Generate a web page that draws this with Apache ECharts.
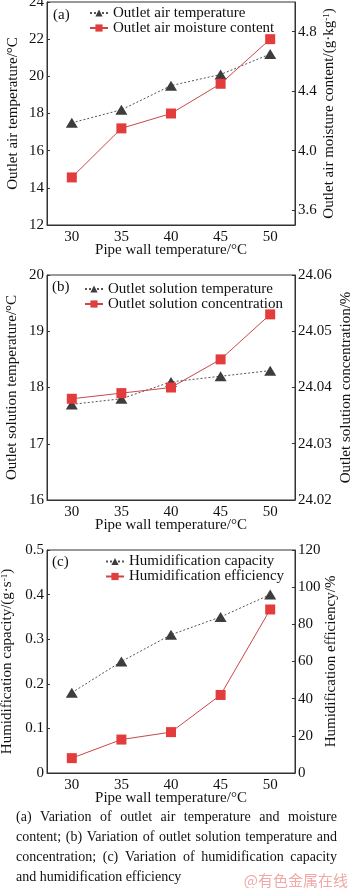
<!DOCTYPE html>
<html lang="en" style="height: 100%">
<head>
  <meta charset="utf-8">
</head>
<body style="height: 100%; margin: 0; background-color: #fff">
  <div id="container" style="width: 350px; height: 888px"></div>
  <script type="text/javascript" src="https://cdn.jsdelivr.net/npm/echarts@6.0.0/dist/echarts.min.js"></script>
  <script type="text/javascript">
    // ----- data -----
    var pipeWallTemp = ['30', '35', '40', '45', '50'];

    // (a)
    var outletAirTemp = [17.5, 18.2, 19.5, 20.1, 21.2];
    var outletAirMoisture = [3.82, 4.15, 4.25, 4.45, 4.75];
    var moistureTicks = [3.6, 4.0, 4.4, 4.8];

    // (b)
    var outletSolutionTemp = [17.7, 17.8, 18.1, 18.2, 18.3];
    var outletSolutionConc = [24.038, 24.039, 24.040, 24.045, 24.053];

    // (c)
    var humidCapacity = [0.18, 0.25, 0.31, 0.35, 0.40];
    var humidEfficiency = [8, 18, 22, 42, 88];

    var captionLines = [
      '(a) Variation of outlet air temperature and moisture',
      'content; (b) Variation of outlet solution temperature and',
      'concentration; (c) Variation of humidification capacity',
      'and humidification efficiency'
    ];

    var SERIF = '"Liberation Serif", "Times New Roman", serif';
    var AXIS_COLOR = '#333';
    var TEXT_COLOR = '#111';
    var TRI_COLOR = '#3d3d3d';
    var RED = '#e23c3c';

    var dom = document.getElementById('container');
    var myChart = echarts.init(dom, null, { renderer: 'canvas' });

    //-----helpers-------
    function makeX(gridIndex) {
      return {
        type: 'category',
        gridIndex: gridIndex,
        data: pipeWallTemp,
        boundaryGap: true,
        name: 'Pipe wall temperature/°C',
        nameLocation: 'middle',
        nameGap: 18,
        nameMoveOverlap: false,
        nameTextStyle: { fontFamily: SERIF, fontSize: 15, color: TEXT_COLOR, verticalAlign: 'top' },
        axisLine: { lineStyle: { color: AXIS_COLOR, width: 1 } },
        axisTick: { inside: true, alignWithLabel: true, length: 3, lineStyle: { color: AXIS_COLOR } },
        axisLabel: { fontFamily: SERIF, fontSize: 15, color: TEXT_COLOR, margin: 5 },
        splitLine: { show: false }
      };
    }

    function makeY(gridIndex, pos, opts) {
      var ax = {
        type: 'value',
        gridIndex: gridIndex,
        position: pos,
        min: opts.min,
        max: opts.max,
        name: opts.name,
        nameLocation: 'middle',
        nameRotate: 90,
        nameGap: opts.nameGap,
        nameMoveOverlap: false,
        nameTextStyle: { fontFamily: SERIF, fontSize: 15, color: TEXT_COLOR, rich: opts.rich },
        axisLine: { show: true, lineStyle: { color: AXIS_COLOR, width: 1 } },
        axisTick: { show: true, inside: true, length: 3, lineStyle: { color: AXIS_COLOR } },
        axisLabel: { fontFamily: SERIF, fontSize: 15, color: TEXT_COLOR, margin: 3, formatter: opts.formatter },
        splitLine: { show: false }
      };
      if (opts.interval != null) ax.interval = opts.interval;
      if (opts.ticks) {
        ax.axisLabel.customValues = opts.ticks;
        ax.axisTick.customValues = opts.ticks;
      }
      return ax;
    }

    var supRich = {
      sup: { fontFamily: SERIF, fontSize: 9, color: TEXT_COLOR, verticalAlign: 'top', lineHeight: 15, padding: [0, 0, 6, 0] }
    };

    function triSeries(name, xi, yi, data) {
      return {
        name: name, type: 'line', xAxisIndex: xi, yAxisIndex: yi, data: data,
        symbol: 'triangle', symbolSize: [12, 10],
        itemStyle: { color: TRI_COLOR },
        lineStyle: { color: '#555', width: 1, type: [2, 2] },
        animation: false
      };
    }

    function sqSeries(name, xi, yi, data) {
      return {
        name: name, type: 'line', xAxisIndex: xi, yAxisIndex: yi, data: data,
        symbol: 'rect', symbolSize: 10,
        itemStyle: { color: RED },
        lineStyle: { color: '#c8484a', width: 1 },
        animation: false
      };
    }

    function makeLegend(names, left, top) {
      return {
        data: names, left: left, top: top, orient: 'vertical',
        padding: 0, itemGap: 0, itemWidth: 18, itemHeight: 9,
        selectedMode: false,
        textStyle: { fontFamily: SERIF, fontSize: 15, color: TEXT_COLOR, padding: [0, 0, 0, 0] }
      };
    }

    // caption with justified lines
    var measureCtx = document.createElement('canvas').getContext('2d');
    var CAP_FONT = '14px ' + SERIF;
    measureCtx.font = CAP_FONT;
    var CAP_L = 16, CAP_R = 337;
    var capYs = [817.5, 837, 857, 877];

    function captionElements() {
      var els = [];
      captionLines.forEach(function (line, li) {
        var y = capYs[li];
        var last = li === captionLines.length - 1;
        if (last) {
          els.push({ type: 'text', x: CAP_L, y: y, style: { text: line, font: CAP_FONT, fill: TEXT_COLOR, verticalAlign: 'middle' } });
          return;
        }
        var words = line.split(' ');
        var widths = words.map(function (w) { return measureCtx.measureText(w).width; });
        var total = widths.reduce(function (a, b) { return a + b; }, 0);
        var gap = (CAP_R - CAP_L - total) / (words.length - 1);
        var x = CAP_L;
        words.forEach(function (w, i) {
          els.push({ type: 'text', x: x, y: y, style: { text: w, font: CAP_FONT, fill: TEXT_COLOR, verticalAlign: 'middle' } });
          x += widths[i] + gap;
        });
      });
      return els;
    }

    var panelLabels = [
      { type: 'text', x: 53, y: 15, style: { text: '(a)', font: '15px ' + SERIF, fill: TEXT_COLOR, verticalAlign: 'middle' } },
      { type: 'text', x: 52, y: 287, style: { text: '(b)', font: '15px ' + SERIF, fill: TEXT_COLOR, verticalAlign: 'middle' } },
      { type: 'text', x: 52, y: 562, style: { text: '(c)', font: '15px ' + SERIF, fill: TEXT_COLOR, verticalAlign: 'middle' } }
    ];

    var watermark = {
      type: 'text', x: 348, y: 880,
      style: { text: '@有色金属在线', font: '15px "Noto Sans CJK SC"', fill: '#f0a8a8', align: 'right', verticalAlign: 'middle' }
    };

    var gridBase = {
      left: 47, right: 55, show: true, borderColor: AXIS_COLOR, borderWidth: 1,
      backgroundColor: 'transparent', containLabel: false, outerBoundsMode: 'none'
    };

    var option = {
      backgroundColor: '#fff',
      animation: false,
      grid: [
        Object.assign({ top: 2, height: 223 }, gridBase),
        Object.assign({ top: 275, height: 225 }, gridBase),
        Object.assign({ top: 550, height: 223 }, gridBase)
      ],
      xAxis: [makeX(0), makeX(1), makeX(2)],
      yAxis: [
        makeY(0, 'left', { min: 12, max: 24, interval: 2, name: 'Outlet air temperature/°C', nameGap: 26 }),
        makeY(0, 'right', {
          min: 3.5, max: 5.0, ticks: moistureTicks, nameGap: 27,
          name: 'Outlet air moisture content/(g·kg{sup|-1})', rich: supRich,
          formatter: function (v) { return v.toFixed(1); }
        }),
        makeY(1, 'left', { min: 16, max: 20, interval: 1, name: 'Outlet solution temperature/°C', nameGap: 27 }),
        makeY(1, 'right', {
          min: 24.02, max: 24.06, interval: 0.01, nameGap: 44,
          name: 'Outlet solution concentration/%',
          formatter: function (v) { return v.toFixed(2); }
        }),
        makeY(2, 'left', {
          min: 0, max: 0.5, interval: 0.1, nameGap: 32,
          name: 'Humidification capacity/(g·s{sup|-1})', rich: supRich,
          formatter: function (v) { return v === 0 ? '0' : v.toFixed(1); }
        }),
        makeY(2, 'right', { min: 0, max: 120, interval: 20, name: 'Humidification efficiency/%', nameGap: 29 })
      ],
      legend: [
        makeLegend(['Outlet air temperature', 'Outlet air moisture content'], 89, 5.5),
        makeLegend(['Outlet solution temperature', 'Outlet solution concentration'], 84, 281.5),
        makeLegend(['Humidification capacity', 'Humidification efficiency'], 105, 554)
      ],
      series: [
        triSeries('Outlet air temperature', 0, 0, outletAirTemp),
        sqSeries('Outlet air moisture content', 0, 1, outletAirMoisture),
        triSeries('Outlet solution temperature', 1, 2, outletSolutionTemp),
        sqSeries('Outlet solution concentration', 1, 3, outletSolutionConc),
        triSeries('Humidification capacity', 2, 4, humidCapacity),
        sqSeries('Humidification efficiency', 2, 5, humidEfficiency)
      ],
      graphic: panelLabels.concat(captionElements(), [watermark])
    };

    myChart.setOption(option);
    window.addEventListener('resize', myChart.resize);
  </script>
</body>
</html>
